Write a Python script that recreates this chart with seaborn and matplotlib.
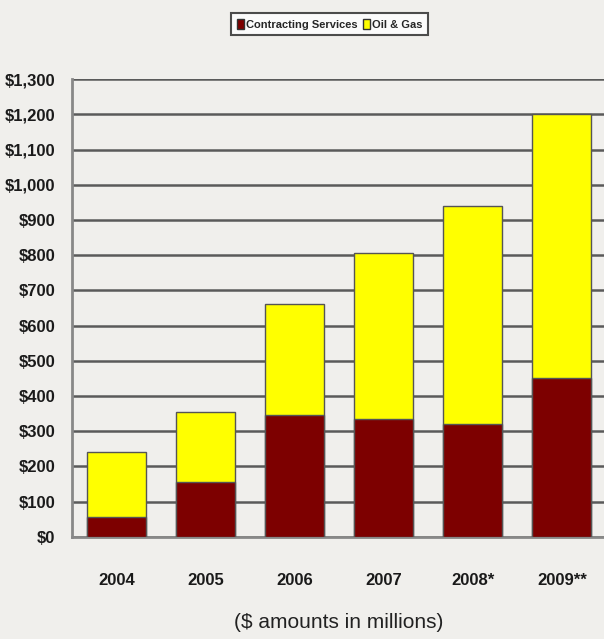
import pandas as pd
import numpy as np
import seaborn as sns
import matplotlib.pyplot as plt
from matplotlib.patches import Patch

sns.set_style("white")
plt.rcParams['font.family'] = ['Liberation Sans Narrow', 'Liberation Sans', 'DejaVu Sans']

years = ["2004", "2005", "2006", "2007", "2008*", "2009**"]
contracting = [55, 155, 345, 335, 320, 450]
oil_gas = [185, 200, 315, 470, 620, 750]

df = pd.DataFrame({"year": years, "cs": contracting, "og": oil_gas})
df["total"] = df["cs"] + df["og"]

bg = "#f0efec"
maroon = "#7d0000"
yellow = "#ffff00"

fig = plt.figure(figsize=(6.04, 6.39), dpi=100, facecolor=bg)
ax = fig.add_axes([0.119, 0.16, 0.885, 0.716])
ax.set_facecolor(bg)

# stacked: total in yellow, contracting drawn over it
sns.barplot(data=df, x="year", y="total", color=yellow, width=0.66,
            edgecolor="#555555", linewidth=1, saturation=1, ax=ax, zorder=3)
sns.barplot(data=df, x="year", y="cs", color=maroon, width=0.66,
            edgecolor="#555555", linewidth=1, saturation=1, ax=ax, zorder=4)

ax.set_ylim(0, 1300)
ax.set_xlim(-0.5, 5.5)
ax.set_yticks(np.arange(0, 1301, 100))
ax.set_yticklabels(["$" + f"{v:,}" for v in range(0, 1301, 100)],
                   fontsize=12, fontweight="bold", color="#1a1a1a")
ax.set_xticks(range(len(years)))
ax.set_xticklabels(years, fontsize=12, fontweight="bold", color="#1a1a1a")
ax.set_xticks(np.arange(0.5, 5.0, 1), minor=True)
ax.tick_params(axis="x", which="major", length=0, pad=26)
ax.tick_params(axis="x", which="minor", length=6, color="#777777", width=1.5, direction="out")
ax.tick_params(axis="y", length=6, color="#777777", width=1.5, direction="out", pad=6)
ax.grid(axis="y", color="#5a5a5a", linewidth=1.8, zorder=1)
ax.set_axisbelow(True)

for s in ["top", "right"]:
    ax.spines[s].set_visible(False)
ax.spines["left"].set_color("#888888")
ax.spines["left"].set_linewidth(2)
ax.spines["bottom"].set_color("#888888")
ax.spines["bottom"].set_linewidth(2)

ax.set_ylabel("")
ax.set_xlabel("($ amounts in millions)", fontsize=15, family=["Liberation Sans", "DejaVu Sans"],
              labelpad=18, color="#222222")

handles = [Patch(facecolor=maroon, edgecolor="#333333", label="Contracting Services"),
           Patch(facecolor=yellow, edgecolor="#333333", label="Oil & Gas")]
leg = fig.legend(handles=handles, loc="upper center", bbox_to_anchor=(0.546, 0.988), ncol=2,
                 frameon=True, fancybox=False, edgecolor="#222222", facecolor="white",
                 prop={"size": 8, "weight": "bold"}, handlelength=0.6, handleheight=1.0,
                 handletextpad=0.2, columnspacing=0.5, borderpad=0.5)
leg.get_frame().set_linewidth(1.5)

fig.savefig("out.png", dpi=100, facecolor=bg)
